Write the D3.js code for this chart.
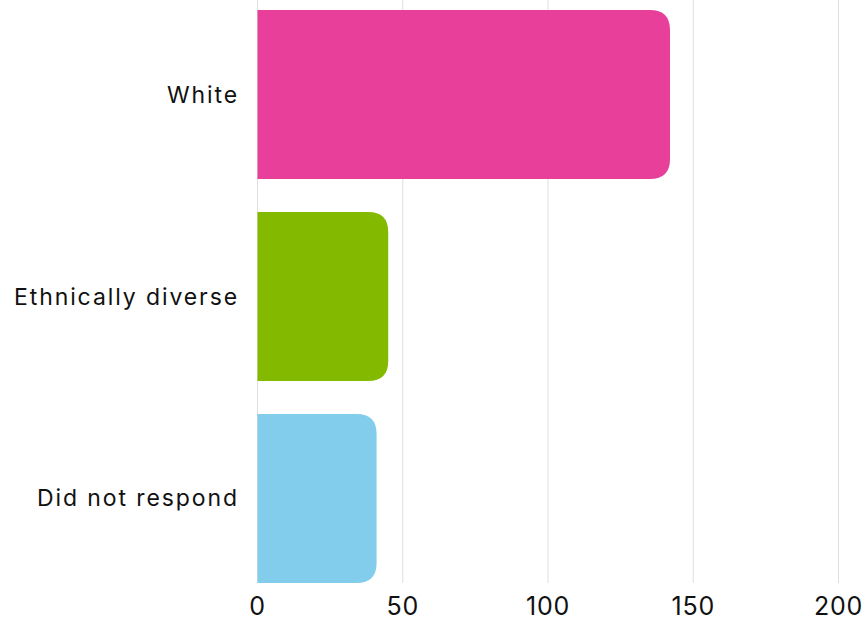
<!DOCTYPE html>
<html>
<head>
<meta charset="utf-8">
<script src="https://cdn.jsdelivr.net/npm/d3@7"></script>
<style>
  html, body { margin: 0; padding: 0; background: #fff; }
  svg { display: block; font-family: "Inter", "Noto Sans", sans-serif; }
</style>
</head>
<body>
<svg id="chart" width="865" height="621"></svg>
<script>
// Respondents by ethnicity
const categories = ["White", "Ethnically diverse", "Did not respond"];
const counts = [142, 45, 41];
const barColors = ["#E8409A", "#83BA00", "#82CDEB"];
const xTicks = [0, 50, 100, 150, 200];

const svg = d3.select("#chart");
const plotLeft = 257.5, plotRight = 838.5, plotTop = 10, plotBottom = 583;

const x = d3.scaleLinear().domain([0, 200]).range([plotLeft, plotRight]);
const y = d3.scaleBand().domain(categories).range([plotTop, plotBottom])
  .paddingInner(0.163).paddingOuter(0);

// vertical gridlines
svg.append("g").selectAll("line").data(xTicks).join("line")
  .attr("x1", d => x(d)).attr("x2", d => x(d))
  .attr("y1", 0).attr("y2", plotBottom)
  .attr("stroke", "#dedede").attr("stroke-width", 1);

// bars with rounded right end
const radius = 20;
function barPath(v, cat) {
  const x0 = x(0), x1 = x(v), y0 = y(cat), h = y.bandwidth();
  const rr = Math.min(radius, (x1 - x0), h / 2);
  return `M${x0},${y0}H${x1 - rr}Q${x1},${y0} ${x1},${y0 + rr}` +
         `V${y0 + h - rr}Q${x1},${y0 + h} ${x1 - rr},${y0 + h}H${x0}Z`;
}
svg.append("g").selectAll("path").data(categories).join("path")
  .attr("d", (c, i) => barPath(counts[i], c))
  .attr("fill", (c, i) => barColors[i]);

// category labels
svg.append("g").selectAll("text").data(categories).join("text")
  .attr("x", 239).attr("y", c => y(c) + y.bandwidth() / 2)
  .attr("text-anchor", "end").attr("dominant-baseline", "central")
  .attr("font-size", 23).attr("letter-spacing", "1.9px").attr("fill", "#111")
  .text(c => c);

// x tick labels
svg.append("g").selectAll("text").data(xTicks).join("text")
  .attr("x", d => x(d)).attr("y", 606)
  .attr("text-anchor", "middle").attr("dominant-baseline", "central")
  .attr("font-size", 25).attr("letter-spacing", "0.8px").attr("fill", "#111")
  .text(d => d);
</script>
</body>
</html>
